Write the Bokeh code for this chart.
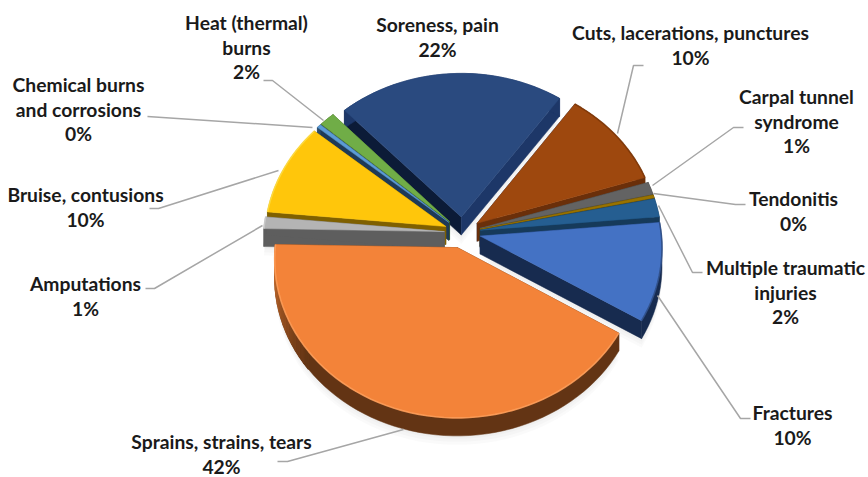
import math
from bokeh.plotting import figure
from bokeh.models import Range1d
from bokeh.core.properties import value
from bokeh.embed import file_html
from bokeh.resources import INLINE

# ---- data (pie order, clockwise from the first slice angle) ----
categories = ["Fractures", "Sprains, strains, tears", "Amputations", "Bruise, contusions",
              "Chemical burns and corrosions", "Heat (thermal) burns", "Soreness, pain",
              "Cuts, lacerations, punctures", "Carpal tunnel syndrome", "Tendonitis",
              "Multiple traumatic injuries"]
shares = [10.1, 41.6, 1.2, 9.6, 0.4, 1.5, 21.8, 10.3, 1.3, 0.3, 1.9]
label_lines = [["Fractures"], ["Sprains, strains, tears"], ["Amputations"], ["Bruise, contusions"],
               ["Chemical burns", "and corrosions"], ["Heat (thermal)", "burns"], ["Soreness, pain"],
               ["Cuts, lacerations, punctures"], ["Carpal tunnel", "syndrome"], ["Tendonitis"],
               ["Multiple traumatic", "injuries"]]

# ---- styles ----
top_colors = ["#4472C4", "#F38339", "#B4B4B4", "#FFC60B", "#5B9BD5", "#70AD47", "#2A4A7F",
              "#9E480E", "#636363", "#997300", "#255E91"]
arc_colors = ["#172B4F", "#633414", "#5E5E5E", "#7F6000", "#2A4A6B", "#3B5C25", "#1D3768",
              "#6A2F0A", "#3F3F3F", "#664D00", "#163A5A"]
start_wall = ["#1D3768", "#633414", "#5E5E5E", "#7F6000", "#1E3A57", "#3B5C25", "#0C1B37",
              "#1D3768", "#3F3F3F", "#664D00", "#163A5A"]
end_wall = ["#172B4F", "#633414", "#5E5E5E", "#7F6000", "#1E3A57", "#3B5C25", "#1D3768",
            "#6A2F0A", "#3F3F3F", "#664D00", "#163A5A"]
rim_colors = ["#2C4A80", "#FFA05C", "#D0D0D0", "#FFE04A", None, None, None, "#7A3608", None, None, None]
text_color = "#1A1A1A"
leader_color = "#A6A6A6"

# ---- layout (screen pixels) ----
W, H = 868, 477
FIRST_ANGLE = 85.0
CX, CY = 462.0, 232.0
RX, RY = 181.0, 156.0
PERSP = 0.071
EXPLODE = 0.10
DEPTH = 18.0
LABEL_CX = [792, 221, 85, 85, 78, 246, 437, 690, 796, 793, 785]
LABEL_Y0 = [412, 441, 283, 194, 84, 22, 24, 32, 96, 198, 267]
LINE_H = 24.7
FONT = "Lato"
FONT_SIZE = "19.3px"
leaders = [
    ([750, 740, 657], [418, 418, 295]),
    ([277, 287, 403], [461, 461, 429]),
    ([145, 154, 262], [288, 288, 225]),
    ([149, 158, 278], [208, 208, 170]),
    ([147, 312], [116, 127]),
    ([263, 272, 323], [80, 80, 120]),
    ([643, 633, 617], [65, 65, 133]),
    ([743, 733, 652], [127, 127, 185]),
    ([745, 735, 653], [204, 204, 193]),
    ([702, 692, 658], [272, 272, 205]),
]


def project(X, Y):
    w = 1 + PERSP * Y
    return CX + RX * X / w, CY - RY * Y / w


def lerp_hex(a, b, t):
    t = max(0.0, min(1.0, t))
    ca = [int(a[i:i + 2], 16) for i in (1, 3, 5)]
    cb = [int(b[i:i + 2], 16) for i in (1, 3, 5)]
    return "#%02X%02X%02X" % tuple(round(u + (v - u) * t) for u, v in zip(ca, cb))


total = sum(shares)
wedges = []
a = FIRST_ANGLE
for i, s in enumerate(shares):
    sweep = 360.0 * s / total
    wedges.append((i, a, a + sweep))
    a += sweep

p = figure(width=W, height=H, x_range=Range1d(0, W), y_range=Range1d(H, 0),
           output_backend="svg", toolbar_location=None, min_border=0,
           margin=(0, -8, -8, 0), background_fill_color="white", border_fill_color="white")
p.axis.visible = False
p.grid.visible = False
p.outline_line_color = None


def wedge_geom(a0, a1):
    mid = math.radians((a0 + a1) / 2)
    ax, ay = EXPLODE * math.sin(mid), EXPLODE * math.cos(mid)
    n = max(2, int((a1 - a0) / 2.5) + 1)
    arc = []
    for k in range(n + 1):
        th = math.radians(a0 + (a1 - a0) * k / n)
        arc.append(project(ax + math.sin(th), ay + math.cos(th)))
    return project(ax, ay), arc


# soft shadow
for i, a0, a1 in wedges:
    apex, arc = wedge_geom(a0, a1)
    for off in (3, 6, 9):
        xs = [apex[0]] + [q[0] for q in arc]
        ys = [apex[1] + DEPTH + off] + [q[1] + DEPTH + off for q in arc]
        p.patch(xs, ys, fill_color="#000000", fill_alpha=0.02, line_color=None)

# back to front
order = sorted(wedges, key=lambda w: -math.cos(math.radians((w[1] + w[2]) / 2)))
for i, a0, a1 in order:
    apex, arc = wedge_geom(a0, a1)
    ax0, ay0 = apex
    # radial walls
    for q, col in ((arc[0], start_wall[i]), (arc[-1], end_wall[i])):
        p.patch([ax0, q[0], q[0], ax0], [ay0, q[1], q[1] + DEPTH, ay0 + DEPTH],
                fill_color=col, line_color=col, line_width=0.5)
    # outer wall: one band, then a lit part for the big slice
    p.patch([q[0] for q in arc] + [q[0] for q in reversed(arc)],
            [q[1] for q in arc] + [q[1] + DEPTH for q in reversed(arc)],
            fill_color=arc_colors[i], line_color=arc_colors[i], line_width=0.5)
    if categories[i].startswith("Sprains"):
        n = len(arc) - 1
        for k in range(n):
            th = a0 + (a1 - a0) * (k + 0.5) / n
            t = (th - 232) / 36
            if t <= 0:
                continue
            col = lerp_hex(arc_colors[i], "#C46A2C", t)
            q0, q1 = arc[k], arc[k + 1]
            p.patch([q0[0], q1[0], q1[0], q0[0]], [q0[1], q1[1], q1[1] + DEPTH, q0[1] + DEPTH],
                    fill_color=col, line_color=col, line_width=1.2)
    # top face
    xs = [ax0] + [q[0] for q in arc]
    ys = [ay0] + [q[1] for q in arc]
    p.patch(xs, ys, fill_color=top_colors[i], line_color=top_colors[i], line_width=0.5)
    # rim highlight
    if rim_colors[i]:
        p.line([q[0] for q in arc], [q[1] for q in arc], line_color=rim_colors[i],
               line_width=1.6, line_alpha=0.8)

# leader lines
for lx, ly in leaders:
    p.line(lx, ly, line_color=leader_color, line_width=1.5)

# labels
for i, lines in enumerate(label_lines):
    rows = lines + ["%d%%" % round(shares[i])]
    for r, row in enumerate(rows):
        p.text([LABEL_CX[i]], [LABEL_Y0[i] + r * LINE_H], text=[row], text_align="center",
               text_baseline="middle", text_font=value(FONT), text_font_style="bold",
               text_font_size=FONT_SIZE, text_color=text_color)

open("out.html", "w").write(file_html(p, INLINE))
